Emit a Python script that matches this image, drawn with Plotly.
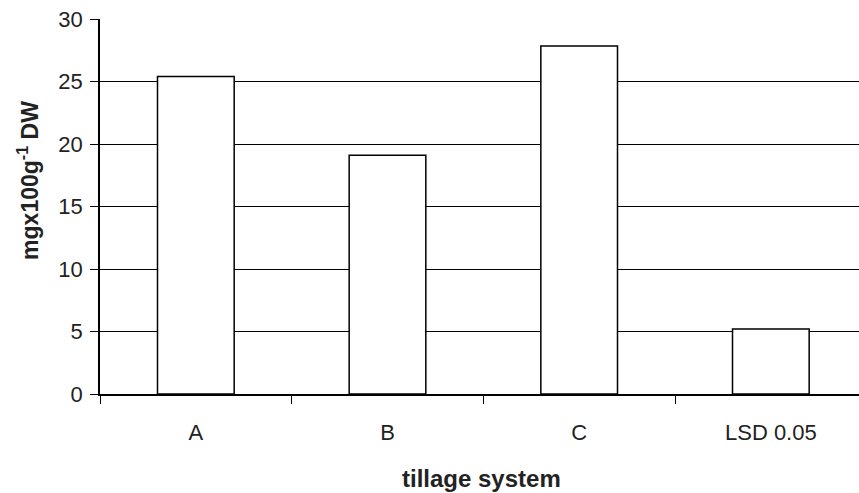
import plotly.graph_objects as go

categories = ["A", "B", "C", "LSD 0.05"]
values = [25.4, 19.1, 27.85, 5.2]
y_ticks = [0, 5, 10, 15, 20, 25, 30]

fig = go.Figure()
fig.add_trace(go.Bar(
    x=categories, y=values, width=0.4,
    marker=dict(color="white", line=dict(color="black", width=1.5)),
))

font = "Liberation Sans, Arial, sans-serif"
fig.update_layout(
    width=859, height=493,
    margin=dict(l=100, r=0, t=19, b=99),
    paper_bgcolor="white", plot_bgcolor="white",
    showlegend=False,
    font=dict(family=font, color="#222"),
    xaxis=dict(
        range=[-0.5, 3.46], automargin=False,
        showline=True, linecolor="black", linewidth=1.5,
        ticks="outside", tickson="boundaries", ticklen=8, tickcolor="black",
        tickfont=dict(size=22), showgrid=False, ticklabelstandoff=18,
    ),
    yaxis=dict(
        range=[0, 30], tickvals=y_ticks, automargin=False,
        showline=True, linecolor="black", linewidth=1.5,
        ticks="outside", ticklen=8, tickcolor="black",
        tickfont=dict(size=22), ticklabelstandoff=3,
        showgrid=True, gridcolor="black", gridwidth=1,
        zeroline=False,
    ),
    annotations=[
        dict(text="<b>tillage system</b>", xref="paper", yref="paper",
             x=0.503, y=-0.225, xanchor="center", yanchor="middle",
             showarrow=False, font=dict(size=24, color="#222")),
        dict(text="<b>mgx100g<sup>-1</sup> DW</b>", xref="paper", yref="paper",
             x=-0.094, y=0.57, xanchor="center", yanchor="middle", textangle=-90,
             showarrow=False, font=dict(size=23, color="#222")),
    ],
)
fig.write_html("out.html", config={"displayModeBar": False},
               post_script="document.body.style.margin='0';document.body.style.overflow='hidden';")
